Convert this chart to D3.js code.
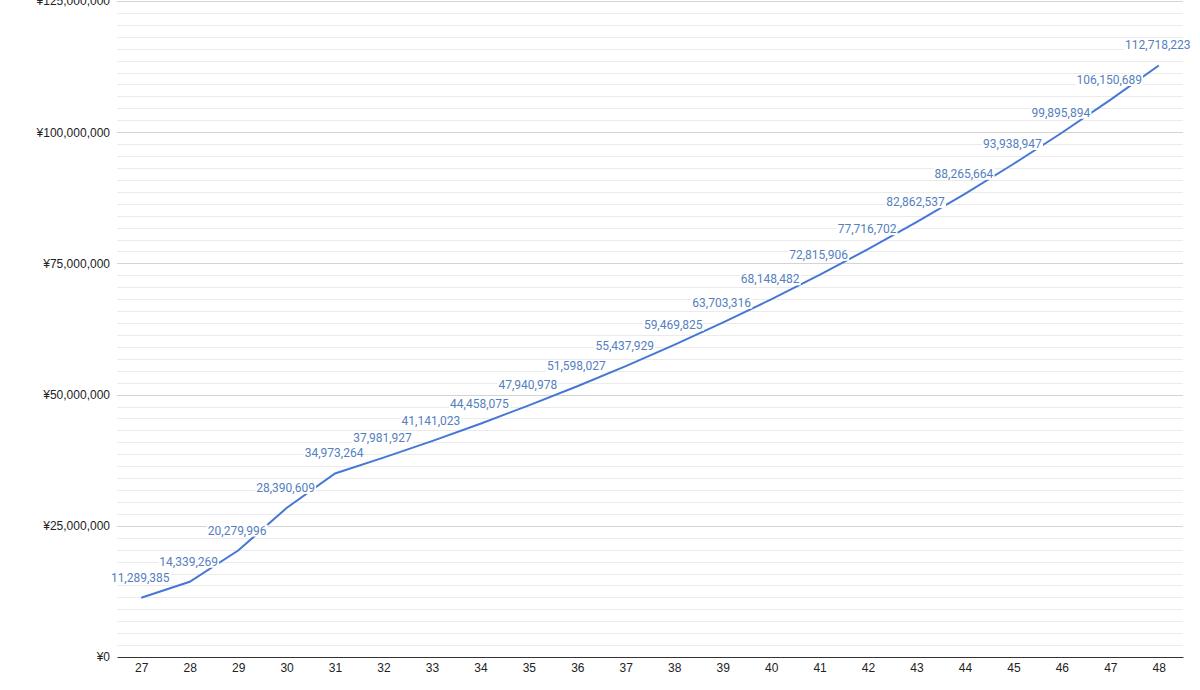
<!DOCTYPE html>
<html><head><meta charset="utf-8">
<script src="https://cdn.jsdelivr.net/npm/d3@7"></script>
<style>body{margin:0;background:#fff;}svg{display:block;font-family:Roboto,Arial,sans-serif;}</style>
</head><body>
<svg id="c" width="1200" height="690"></svg>
<script>
const ages = [27,28,29,30,31,32,33,34,35,36,37,38,39,40,41,42,43,44,45,46,47,48];
const values = [11289385,14339269,20279996,28390609,34973264,37981927,41141023,44458075,47940978,51598027,55437929,59469825,63703316,68148482,72815906,77716702,82862537,88265664,93938947,99895894,106150689,112718223];
const yTicks = [0,25000000,50000000,75000000,100000000,125000000];

(function(){
const svg = d3.select('#c');
const mLeft = 117, mRight = 1183, mTop = 1, mBottom = 657;
const x = d3.scalePoint().domain(ages).range([mLeft, mRight]).padding(0.5);
const y = d3.scaleLinear().domain([0,125000000]).range([mBottom, mTop]);

const minor = [];
for (let i = 0; i < 5; i++) for (let j = 1; j <= 10; j++) minor.push(yTicks[i] + j*25000000/11);
svg.append('g').selectAll('line').data(minor).join('line')
  .attr('x1', mLeft).attr('x2', mRight)
  .attr('y1', d => Math.round(y(d))+0.5).attr('y2', d => Math.round(y(d))+0.5)
  .attr('stroke', '#ebebeb').attr('stroke-width', 1);
svg.append('g').selectAll('line').data(yTicks.slice(1)).join('line')
  .attr('x1', mLeft).attr('x2', mRight)
  .attr('y1', d => Math.round(y(d))+0.5).attr('y2', d => Math.round(y(d))+0.5)
  .attr('stroke', '#d4d4d4').attr('stroke-width', 1);

const fmt = d3.format(',');
const yAxis = svg.append('g').attr('transform', `translate(${mLeft},0)`)
  .call(d3.axisLeft(y).tickValues(yTicks).tickSize(0).tickPadding(7).tickFormat(d => '¥' + fmt(d)));
yAxis.select('.domain').remove();
yAxis.selectAll('text').attr('font-size', 12).attr('fill', '#222').attr('font-family', '"Liberation Sans", Arial, sans-serif');

const xAxis = svg.append('g').attr('transform', `translate(0,${mBottom})`)
  .call(d3.axisBottom(x).tickSize(0).tickPadding(6));
xAxis.select('.domain').attr('stroke', '#333').attr('stroke-width', 1.2);
xAxis.selectAll('text').attr('font-size', 12).attr('fill', '#222').attr('font-family', '"Liberation Sans", Arial, sans-serif');

const line = d3.line().x((d,i) => x(ages[i])).y(d => y(d));
svg.append('path').datum(values).attr('d', line)
  .attr('fill', 'none').attr('stroke', '#4677d4').attr('stroke-width', 2);

const lg = svg.append('g').selectAll('g').data(values).join('g')
  .attr('transform', (d,i) => `translate(${x(ages[i]) - 1},${y(d) - 16})`);
lg.append('text').text(d => fmt(d))
  .attr('text-anchor', 'middle').attr('font-size', 12).attr('fill', '#5580c0')
  .attr('font-family', 'Roboto, Arial, sans-serif')
  .each(function(){
    const b = this.getBBox();
    d3.select(this.parentNode).insert('rect', 'text')
      .attr('x', b.x - 1).attr('y', b.y + 1).attr('width', b.width + 2).attr('height', b.height - 2)
      .attr('fill', '#fff');
  });
})();
</script>
</body></html>
